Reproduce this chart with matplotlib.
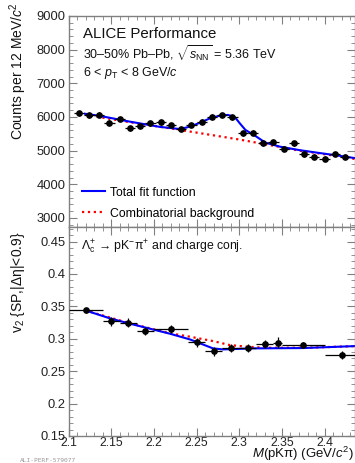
import matplotlib
matplotlib.use("Agg")
import matplotlib.pyplot as plt
from matplotlib.ticker import MultipleLocator

plt.rcParams['font.family'] = ['Liberation Sans', 'DejaVu Sans']
plt.rcParams['mathtext.fontset'] = 'custom'
plt.rcParams['mathtext.rm'] = 'Liberation Sans'
plt.rcParams['mathtext.it'] = 'Liberation Sans:italic'
plt.rcParams['mathtext.bf'] = 'Liberation Sans:bold'

# invariant-mass distribution (12 MeV bins)
mass_centers = [2.112 + 0.012 * i for i in range(27)]
counts = [6110, 6050, 6070, 5830, 5940, 5665, 5730, 5810, 5840, 5760,
          5645, 5760, 5860, 6010, 6060, 5990, 5515, 5535, 5220, 5260,
          5060, 5220, 4890, 4820, 4760, 4900, 4820]
count_err = [70] * 27
mass_halfwidth = 0.006

# fit curves
fit_mass = [2.1193, 2.137, 2.172, 2.207, 2.2306, 2.2423, 2.2541, 2.2658,
            2.2775, 2.2869, 2.295, 2.301, 2.3072, 2.3189, 2.3306, 2.348,
            2.3716, 2.395, 2.4184, 2.4359]
fit_total = [6095, 6030, 5860, 5705, 5640, 5712, 5830, 5960,
             6040, 6060, 5990, 5800, 5615, 5436, 5237, 5115,
             5010, 4925, 4843, 4775]
bkg_mass = [2.1193, 2.17, 2.2183, 2.25, 2.3, 2.339, 2.37, 2.395, 2.4184, 2.4359]
bkg_counts = [6070, 5850, 5665, 5535, 5330, 5150, 5000, 4910, 4820, 4750]

# v2 vs mass
v2_edges = [2.10, 2.14, 2.16, 2.18, 2.20, 2.24, 2.26, 2.28, 2.30, 2.32,
            2.34, 2.35, 2.40, 2.44]
v2_values = [0.3438, 0.3273, 0.3248, 0.3119, 0.3156, 0.2949, 0.2810,
             0.2863, 0.2863, 0.2924, 0.2940, 0.2903, 0.2744]
v2_err = [0.004, 0.007, 0.007, 0.006, 0.006, 0.007, 0.007,
          0.006, 0.006, 0.006, 0.008, 0.005, 0.006]

v2fit_mass = [2.1193, 2.1486, 2.172, 2.2189, 2.2423, 2.2692, 2.2809,
              2.316, 2.3746, 2.4355]
v2fit_total = [0.344, 0.3315, 0.3233, 0.3078, 0.299, 0.2852, 0.2836,
               0.2852, 0.2857, 0.2887]
v2bkg_mass = [2.1193, 2.172, 2.2189, 2.2423, 2.2692, 2.289, 2.309, 2.33,
              2.38, 2.4355]
v2bkg_values = [0.344, 0.3238, 0.3085, 0.3032, 0.2965, 0.2903, 0.2878,
                0.2862, 0.2862, 0.2887]

v2_centers = [(a + b) / 2 for a, b in zip(v2_edges[:-1], v2_edges[1:])]
v2_halfw = [(b - a) / 2 for a, b in zip(v2_edges[:-1], v2_edges[1:])]

W, H = 355, 463
fig = plt.figure(figsize=(W / 100, H / 100), dpi=100)
left = 68.5 / W
width = (354.5 - 68.5) / W
ax1 = fig.add_axes([left, 1 - 227 / H, width, (227 - 16) / H])
ax2 = fig.add_axes([left, 1 - 436 / H, width, (436 - 227) / H])

frame_col = '0.5'
for ax in (ax1, ax2):
    for s in ax.spines.values():
        s.set_color(frame_col)
        s.set_linewidth(1.0)
    ax.tick_params(which='both', direction='in', top=True, right=True,
                   color=frame_col, labelcolor='#222222', labelsize=9.3, pad=2)
    ax.tick_params(which='major', length=6)
    ax.tick_params(which='minor', length=3)
    ax.set_xlim(2.1, 2.435)
    ax.xaxis.set_major_locator(MultipleLocator(0.05))
    ax.xaxis.set_minor_locator(MultipleLocator(0.01))

# top panel
ax1.errorbar(mass_centers, counts, yerr=count_err, xerr=mass_halfwidth,
             fmt='o', color='black', markersize=3.8, elinewidth=0.9,
             capsize=0, zorder=3)
ax1.plot(bkg_mass, bkg_counts, color='red', linestyle=':', linewidth=1.6,
         zorder=1)
ax1.plot(fit_mass, fit_total, color='blue', linewidth=1.5, zorder=2)
ax1.set_ylim(2730, 9000)
ax1.yaxis.set_major_locator(MultipleLocator(1000))
ax1.yaxis.set_minor_locator(MultipleLocator(200))
ax1.set_yticks([3000, 4000, 5000, 6000, 7000, 8000, 9000])
ax1.tick_params(labelbottom=False)

# legend drawn like the ROOT one
ax1.plot([], [], color='blue', linewidth=1.5, label='Total fit function')
ax1.plot([], [], color='red', linestyle=':', linewidth=1.6,
         label='Combinatorial background')
h, l = ax1.get_legend_handles_labels()
ax1.legend(h[-2:], l[-2:], loc='lower left', bbox_to_anchor=(0.02, 0.0),
           frameon=False, fontsize=8.8, handlelength=1.9, handletextpad=0.4,
           labelspacing=0.75, borderaxespad=0.2)

ax1.text(0.05, 0.915, 'ALICE Performance', transform=ax1.transAxes,
         fontsize=10.8, va='center', color='#111111')
ax1.text(0.05, 0.82, '30–50% Pb–Pb, $\\sqrt{s_{\\rm NN}}$ = 5.36 TeV',
         transform=ax1.transAxes, fontsize=9, va='center', color='#111111')
ax1.text(0.05, 0.73, '6 < $p_{\\rm T}$ < 8 GeV/$c$', transform=ax1.transAxes,
         fontsize=9, va='center', color='#111111')

# bottom panel
ax2.errorbar(v2_centers, v2_values, yerr=v2_err, xerr=v2_halfw,
             fmt='o', color='black', markersize=3.8, elinewidth=0.9,
             capsize=0, zorder=3)
ax2.plot(v2bkg_mass, v2bkg_values, color='red', linestyle=':',
         linewidth=1.6, zorder=1)
ax2.plot(v2fit_mass, v2fit_total, color='blue', linewidth=1.5, zorder=2)
ax2.set_ylim(0.15, 0.4725)
ax2.yaxis.set_major_locator(MultipleLocator(0.05))
ax2.yaxis.set_minor_locator(MultipleLocator(0.01))
ax2.set_yticks([0.15, 0.2, 0.25, 0.3, 0.35, 0.4, 0.45])
ax2.set_yticklabels(['0.15', '0.2', '0.25', '0.3', '0.35', '0.4', '0.45'])
ax2.set_xticks([2.1, 2.15, 2.2, 2.25, 2.3, 2.35, 2.4])
ax2.set_xticklabels(['2.1', '2.15', '2.2', '2.25', '2.3', '2.35', '2.4'])
ax2.tick_params(axis='x', labelsize=8.8, pad=1)

ax2.text(0.045, 0.905, 'Λ$_{\\rm c}^{+}$ → pK$^{-}$π$^{+}$ and charge conj.',
         transform=ax2.transAxes, fontsize=8.8, va='center', color='#111111')

# axis titles
fig.text(18 / W, 1 - 2 / H, 'Counts per 12 MeV/$c^{2}$', rotation=90,
         ha='center', va='top', fontsize=10, color='#111111')
fig.text(18 / W, 1 - 231 / H, 'v$_{2}$ {SP,|Δη|<0.9}', rotation=90,
         ha='center', va='top', fontsize=10, color='#111111')
fig.text(1 - 1 / W, 1 - 454 / H, '$M$(pKπ) (GeV/$c^{2}$)', ha='right',
         va='center', fontsize=9.5, color='#111111')
fig.text(20 / W, 1 - 460 / H, 'ALI-PERF-579077', ha='left', va='center',
         fontsize=4.5, color='0.6', family='DejaVu Sans Mono')

fig.savefig('out.png', dpi=100)
